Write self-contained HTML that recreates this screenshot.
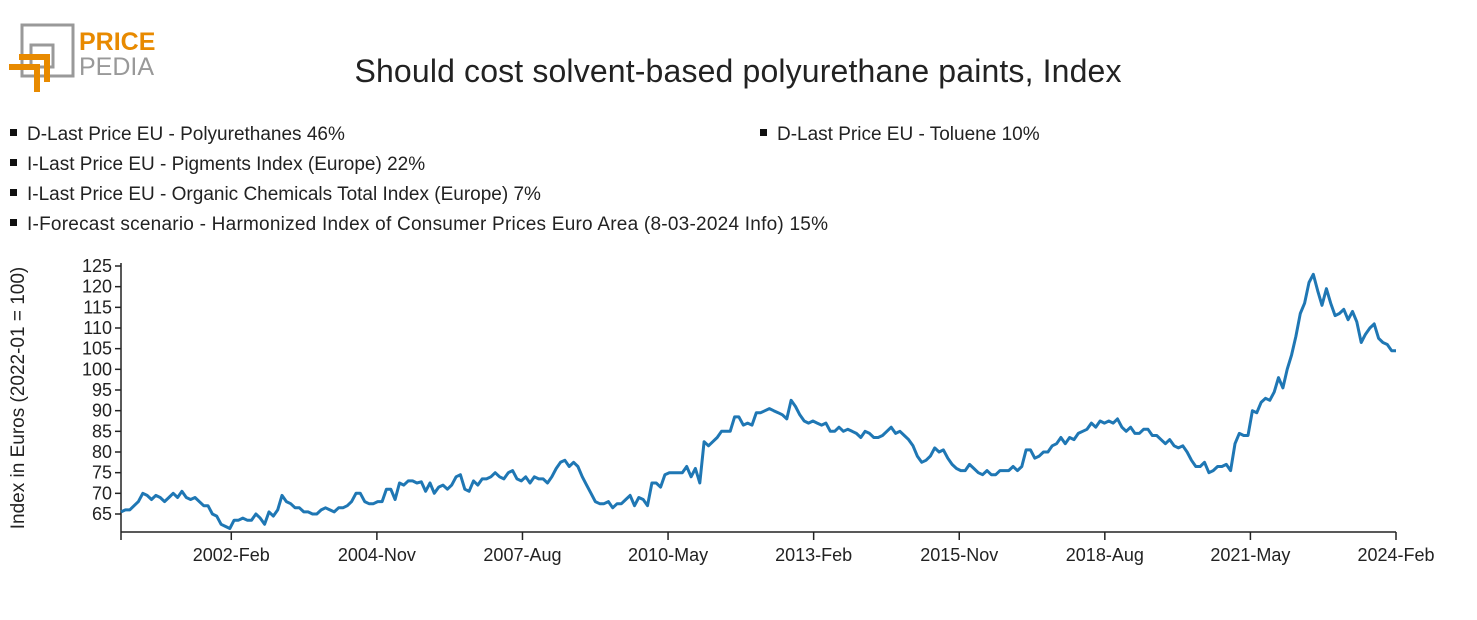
<!DOCTYPE html>
<html><head><meta charset="utf-8"><style>
body{margin:0;background:#fff;font-family:"Liberation Sans",sans-serif;}
svg text{font-family:"Liberation Sans",sans-serif;fill:#222;}
</style></head><body>
<svg width="1477" height="615">
<g>
<rect x="22" y="25" width="51" height="51" fill="none" stroke="#999" stroke-width="3"/>
<rect x="31" y="45" width="22" height="22" fill="none" stroke="#999" stroke-width="3"/>
<path d="M9 67 H37 V92" fill="none" stroke="#e88a00" stroke-width="6"/>
<path d="M19 57 H47 V82" fill="none" stroke="#e88a00" stroke-width="6"/>
<text x="79" y="50" font-size="25" font-weight="bold" style="fill:#e88a00">PRICE</text>
<text x="79" y="75" font-size="25" style="fill:#999">PEDIA</text>
</g>
<text x="738" y="82" font-size="32" text-anchor="middle" textLength="767">Should cost solvent-based polyurethane paints, Index</text>
<g font-size="19">
<rect x="10" y="129" width="7" height="7" fill="#111"/><text x="27" y="140">D-Last Price EU - Polyurethanes 46%</text>
<rect x="760" y="129" width="7" height="7" fill="#111"/><text x="777" y="140">D-Last Price EU - Toluene 10%</text>
<rect x="10" y="159" width="7" height="7" fill="#111"/><text x="27" y="170">I-Last Price EU - Pigments Index (Europe) 22%</text>
<rect x="10" y="189" width="7" height="7" fill="#111"/><text x="27" y="200">I-Last Price EU - Organic Chemicals Total Index (Europe) 7%</text>
<rect x="10" y="219" width="7" height="7" fill="#111"/><text x="27" y="230" textLength="801">I-Forecast scenario - Harmonized Index of Consumer Prices Euro Area (8-03-2024 Info) 15%</text>
</g>
<text transform="translate(24,398) rotate(-90)" font-size="19" text-anchor="middle">Index in Euros (2022-01 = 100)</text>
<g id="axes"></g>
<path id="line" fill="none" stroke="#1f77b4" stroke-width="3" stroke-linejoin="round"/>
</svg>
<script>
const values=[65.5,66,66,67,68,70,69.5,68.5,69.5,69,68,69,70,69,70.5,69,68.5,69,68,67,67,65,64.5,62.5,62,61.5,
63.5,63.5,64,63.5,63.5,65,64,62.5,65.5,64.5,66,69.5,68,67.5,66.5,66.5,65.5,65.5,65,65,66,66.5,66,65.5,66.5,66.5,67,68,70,70,
68,67.5,67.5,68,68,71,71,68.5,72.5,72,73,73,72.5,72.8,70.5,72.5,70,71.5,72,71,72,74,74.5,71,70.5,73,72,73.5,73.5,74,75,74,73.5,75,75.5,73.5,73,74,72.5,74,73.5,73.5,72.5,74,76,77.5,78,76.5,77.5,76.5,74,72,70,68,67.5,67.5,68,66.5,67.5,67.5,68.5,69.5,67,69,68.5,67,72.5,72.5,71.5,74.5,75,75,75,75,76.5,74,76,72.5,82.5,81.5,82.5,83.5,85,85,85,88.5,88.5,86.5,87,86.5,89.5,89.5,90,90.5,90,89.5,89,88,92.5,91,89,87.5,87,87.5,87,86.5,87,85,85,86,85,85.5,85,84.5,83.5,85,84.5,83.5,83.5,84,85,86,84.5,85,84,83,81.5,79,77.5,78,79,81,80,80.5,78.5,77,76,75.5,75.5,77,76,75,74.5,75.5,74.5,74.5,75.5,75.5,75.5,76.5,75.5,76.5,80.5,80.5,78.5,79,80,80,81.5,82,83.5,82,83.5,83,84.5,85,85.5,87,86,87.5,87,87.5,87,88,86,85,86,84.5,84.5,85.5,85.5,84,84,83,82,83,81.5,81,81.5,80,78,76.5,76.5,77.5,75,75.5,76.5,76.5,77,75.5,82,84.5,84,84,90,89.5,92,93,92.5,94.5,98,95.5,100,103.5,108,113.5,116,121,123,119,115.5,119.5,116,113,113.5,114.5,112,114,111.5,106.5,108.5,110,111,107.5,106.5,106,104.5,104.5];
const yTicks=[65,70,75,80,85,90,95,100,105,110,115,120,125];
const xTickLabels=["2002-Feb","2004-Nov","2007-Aug","2010-May","2013-Feb","2015-Nov","2018-Aug","2021-May","2024-Feb"];
const xTickMonths=[25,58,91,124,157,190,223,256,289];
const totalMonths=290;
const X0=121,X1=1396,YT=266,YB=514;
function xs(i){return X0+i*(X1-X0)/(totalMonths-1);}
function xLine(i){return X0+i*(X1-X0)/(values.length-1);}
function ys(v){return YB-(v-65)*(YB-YT)/60;}
const ns="http://www.w3.org/2000/svg";
const ax=document.getElementById('axes');
function mk(t,a){const e=document.createElementNS(ns,t);for(const k in a)e.setAttribute(k,a[k]);ax.appendChild(e);return e;}
let e=mk('line',{x1:X0,y1:263,x2:X0,y2:532,stroke:'#222','stroke-width':1.5});


e=mk('line',{x1:X0,y1:532,x2:X1,y2:532,stroke:'#222','stroke-width':1.5});


yTicks.forEach(v=>{const y=ys(v);mk('line',{x1:X0-6,y1:y,x2:X0,y2:y,stroke:'#222','stroke-width':1.5});
const t=mk('text',{x:X0-9,y:y+6,'font-size':18,'text-anchor':'end'});t.textContent=v;

});
mk('line',{x1:X0,y1:532,x2:X0,y2:540,stroke:'#222','stroke-width':1.5});
xTickMonths.forEach((m,k)=>{const x=xs(m);mk('line',{x1:x,y1:532,x2:x,y2:540,stroke:'#222','stroke-width':1.5});
const t=mk('text',{x:x,y:561,'font-size':18,'text-anchor':'middle'});t.textContent=xTickLabels[k];

});
document.getElementById('line').setAttribute('d',values.map((v,i)=>(i?'L':'M')+xLine(i).toFixed(1)+' '+ys(v).toFixed(1)).join(''));
</script>
</body></html>
